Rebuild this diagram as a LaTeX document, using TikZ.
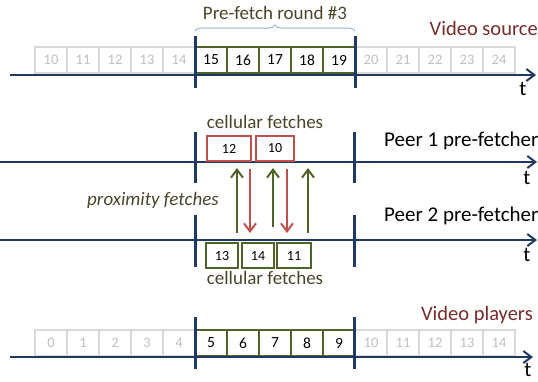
\documentclass[tikz,border=0pt]{standalone}
\usepackage{fontspec}
\setmainfont{Carlito}
\usetikzlibrary{positioning, arrows.meta, decorations.pathreplacing}
\definecolor{axisblue}{HTML}{1F3864}
\definecolor{cellgrey}{HTML}{D9D9D9}
\definecolor{greytext}{HTML}{BFBFBF}
\definecolor{roundgreen}{HTML}{4F6228}
\definecolor{fetchred}{HTML}{C0504D}
\definecolor{bracecol}{HTML}{95B3D7}
\definecolor{labolive}{HTML}{4A452A}
\definecolor{titlered}{HTML}{772C2A}

\begin{document}
\begin{tikzpicture}[x=1pt, y=-1pt, >={Straight Barb[length=8pt, width=12pt]}, every node/.style={inner sep=0pt}]
\tikzset{
  gcell/.style={draw=cellgrey, line width=1.5pt, minimum width=32pt, minimum height=26pt, text=greytext, font=\fontsize{14.5}{14.5}\selectfont},
  ncell/.style={draw=roundgreen, line width=1.8pt, fill=white, minimum width=32pt, minimum height=26pt, font=\fontsize{15.5}{15.5}\selectfont},
  rbox/.style={draw=fetchred, line width=1.8pt, minimum height=25pt, font=\fontsize{14}{14}\selectfont},
  pbox/.style={draw=roundgreen, line width=1.8pt, minimum height=25pt, font=\fontsize{14}{14}\selectfont},
  axis/.style={->, draw=axisblue, line width=2pt},
  bar/.style={draw=axisblue, line width=3pt},
  title/.style={text=titlered, font=\fontsize{20.5}{20.5}\selectfont},
  peer/.style={anchor=west, font=\fontsize{21}{21}\selectfont},
  tlab/.style={font=\fontsize{21}{21}\selectfont},
  olab/.style={text=labolive, font=\fontsize{19}{19}\selectfont},
}
\useasboundingbox (0,0) rectangle (538,381);
% video source
\foreach \i in {0,1,2,3,4,10,11,12,13,14} {
  \pgfmathtruncatemacro{\n}{\i+10}
  \node[gcell] (s\i) at (51+32*\i,60) {\n};
}
\foreach \i in {5,...,9} {
  \pgfmathtruncatemacro{\n}{\i+10}
  \node[ncell] (s\i) at (51+32*\i,60) {\n};
}
\coordinate (srcL) at (10,75);
\coordinate (srcR) at (536,75);
\draw[axis] (srcL) -- (srcR);
\draw[bar] (195,36) -- (195,88);
\draw[bar] (355,36) -- (355,88);
\node[tlab] (tsrc) at (523,89) {t};
\node[title, anchor=east] (src) at (538,28) {Video source};
% round brace
\draw[bracecol, line width=1pt, decorate, decoration={brace, amplitude=6pt, aspect=0.5}] (195,31) -- (355,31);
\node[olab] (round) at (275,13) {Pre-fetch round \#3};
% peer 1
\coordinate (p1L) at (0,162);
\coordinate (p1R) at (537,162);
\draw[axis] (p1L) -- (p1R);
\draw[bar] (195,132) -- (195,183);
\draw[bar] (354,132) -- (354,183);
\node[rbox, minimum width=44pt] (c12) at (229,148.5) {12};
\node[rbox, minimum width=38pt] (c10) at (275,148.5) {10};
\node[olab] (cell1) at (265,122) {cellular fetches};
\node[peer] (peer1) at (384,141) {Peer 1 pre-fetcher};
\node[tlab] (t1) at (527,178) {t};
% peer 2
\coordinate (p2L) at (0,240);
\coordinate (p2R) at (537,240);
\draw[axis] (p2L) -- (p2R);
\draw[bar] (195,215) -- (195,267);
\draw[bar] (354,215) -- (354,267);
\node[pbox, minimum width=32pt] (c13) at (222,255.5) {13};
\node[pbox, minimum width=32pt] (c14) at (258,255.5) {14};
\node[pbox, minimum width=34pt] (c11) at (294,255.5) {11};
\node[olab] (cell2) at (265,278) {cellular fetches};
\node[peer] (peer2) at (384,216) {Peer 2 pre-fetcher};
\node[tlab] (t2) at (527,255) {t};
% proximity fetches
\foreach \k/\x/\y in {1/237/233, 2/273/227, 3/308/233} {
  \coordinate (up\k a) at (\x,\y);
  \coordinate (up\k b) at (\x,168);
  \draw[->, roundgreen, line width=2pt] (up\k a) -- (up\k b);
}
\foreach \k/\x in {1/250, 2/287} {
  \coordinate (dn\k a) at (\x,169);
  \coordinate (dn\k b) at (\x,233);
  \draw[->, fetchred, line width=2pt] (dn\k a) -- (dn\k b);
}
\node[olab, font=\fontsize{19}{19}\selectfont\itshape] (prox) at (153,200) {proximity fetches};
% video players
\foreach \i in {0,1,2,3,4,10,11,12,13,14} {
  \node[gcell] (v\i) at (51+32*\i,343) {\i};
}
\foreach \i in {5,...,9} {
  \node[ncell] (v\i) at (51+32*\i,343) {\i};
}
\coordinate (plL) at (10,357);
\coordinate (plR) at (533,357);
\draw[axis] (plL) -- (plR);
\draw[bar] (195,317) -- (195,369);
\draw[bar] (354,317) -- (354,369);
\node[tlab] (tpl) at (528,370) {t};
\node[title, anchor=east] (pl) at (533,315) {Video players};
\end{tikzpicture}
\end{document}
